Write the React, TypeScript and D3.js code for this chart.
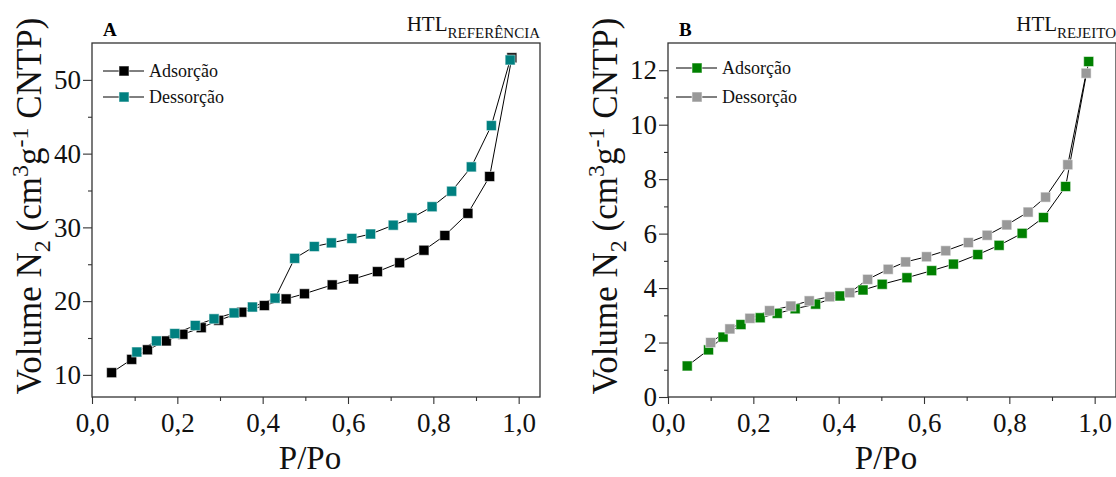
import React, { useEffect, useRef } from "react";
import * as d3 from "d3";

// P/Po and adsorbed volume
const pAdsA = [0.046, 0.093, 0.13, 0.174, 0.213, 0.256, 0.297, 0.351, 0.404, 0.455, 0.498, 0.563, 0.613, 0.669, 0.721, 0.778, 0.827, 0.881, 0.932, 0.984];
const vAdsA = [10.3, 12.1, 13.4, 14.6, 15.5, 16.4, 17.4, 18.5, 19.4, 20.3, 21.0, 22.2, 23.0, 24.0, 25.2, 26.9, 28.9, 31.9, 36.9, 53.0];
const pDesA = [0.98, 0.936, 0.889, 0.843, 0.797, 0.75, 0.706, 0.653, 0.609, 0.561, 0.521, 0.475, 0.429, 0.376, 0.333, 0.286, 0.242, 0.194, 0.151, 0.105];
const vDesA = [52.7, 43.8, 38.2, 34.9, 32.8, 31.3, 30.3, 29.1, 28.5, 27.9, 27.4, 25.8, 20.4, 19.2, 18.4, 17.6, 16.7, 15.6, 14.6, 13.1];

const pAdsB = [0.045, 0.095, 0.129, 0.171, 0.216, 0.256, 0.298, 0.346, 0.403, 0.457, 0.502, 0.56, 0.618, 0.669, 0.726, 0.776, 0.83, 0.88, 0.932, 0.986];
const vAdsB = [1.14, 1.73, 2.2, 2.66, 2.91, 3.07, 3.24, 3.41, 3.71, 3.93, 4.14, 4.38, 4.64, 4.88, 5.23, 5.57, 6.01, 6.59, 7.73, 12.32];
const pDesB = [0.98, 0.937, 0.885, 0.844, 0.794, 0.748, 0.704, 0.651, 0.606, 0.557, 0.516, 0.468, 0.426, 0.379, 0.331, 0.288, 0.238, 0.192, 0.145, 0.1];
const vDesB = [11.89, 8.53, 7.34, 6.79, 6.32, 5.94, 5.67, 5.37, 5.15, 4.96, 4.69, 4.32, 3.83, 3.68, 3.53, 3.34, 3.17, 2.89, 2.5, 2.0];

const xTicks = [0, 0.2, 0.4, 0.6, 0.8, 1.0];
const xMinor = [0.1, 0.3, 0.5, 0.7, 0.9];
const yTicksA = [10, 20, 30, 40, 50];
const yMinorA = [15, 25, 35, 45];
const yTicksB = [0, 2, 4, 6, 8, 10, 12];
const yMinorB = [1, 3, 5, 7, 9, 11];
const seriesNames = ["Adsorção", "Dessorção"];

const FONT = "'Liberation Serif', 'Times New Roman', serif";
const TOP = 43;
const BOTTOM = 397;
const PW = 448;

const panels = [
  {
    letter: "A",
    sub: "REFERÊNCIA",
    left: 92,
    yDomain: [7, 55],
    yTicks: yTicksA,
    yMinor: yMinorA,
    series: [
      { p: pAdsA, v: vAdsA, color: "#000000" },
      { p: pDesA, v: vDesA, color: "#008080" },
    ],
    legend: { x: 11, y: [71, 97] },
  },
  {
    letter: "B",
    sub: "REJEITO",
    left: 668,
    yDomain: [0, 13],
    yTicks: yTicksB,
    yMinor: yMinorB,
    series: [
      { p: pAdsB, v: vAdsB, color: "#008000" },
      { p: pDesB, v: vDesB, color: "#999999" },
    ],
    legend: { x: 8, y: [68, 97] },
  },
];

const fmtComma = (d: number) => d3.format(".1f")(d).replace(".", ",");

function drawPanel(svg: any, cfg: any) {
  const g = svg.append("g");
  const x = d3.scaleLinear().domain([0, 1.05]).range([cfg.left, cfg.left + PW]);
  const y = d3.scaleLinear().domain(cfg.yDomain).range([BOTTOM, TOP]);

  // x axis, major + minor
  const xg = g.append("g").attr("transform", `translate(0,${BOTTOM})`);
  xg.call(d3.axisBottom(x).tickValues(xTicks).tickFormat(fmtComma as any).tickSize(7).tickPadding(9));
  xg.append("g").call(d3.axisBottom(x).tickValues(xMinor).tickFormat(() => "").tickSize(4));
  xg.selectAll(".domain").remove();
  xg.selectAll("text").attr("font-family", FONT).attr("font-size", 27).attr("fill", "#111");

  // y axis
  const yg = g.append("g").attr("transform", `translate(${cfg.left},0)`);
  yg.call(d3.axisLeft(y).tickValues(cfg.yTicks).tickFormat(d3.format("d") as any).tickSize(9).tickPadding(2));
  yg.append("g").call(d3.axisLeft(y).tickValues(cfg.yMinor).tickFormat(() => "").tickSize(4));
  yg.selectAll(".domain").remove();
  yg.selectAll("text").attr("font-family", FONT).attr("font-size", 27).attr("fill", "#111");
  g.selectAll(".tick line").attr("stroke", "#333").attr("stroke-width", 1.1);

  // frame
  g.append("rect")
    .attr("x", cfg.left)
    .attr("y", TOP)
    .attr("width", PW)
    .attr("height", BOTTOM - TOP)
    .attr("fill", "none")
    .attr("stroke", "#333")
    .attr("stroke-width", 1.3);

  // lines + square markers
  cfg.series.forEach((s: any) => {
    const idx = d3.range(s.p.length);
    const line = d3
      .line<number>()
      .x((i) => x(s.p[i]))
      .y((i) => y(s.v[i]));
    g.append("path").attr("d", line(idx)).attr("fill", "none").attr("stroke", "#000").attr("stroke-width", 1);
  });
  cfg.series.forEach((s: any) => {
    g.selectAll(null)
      .data(d3.range(s.p.length))
      .enter()
      .append("rect")
      .attr("x", (i: number) => x(s.p[i]) - 5)
      .attr("y", (i: number) => y(s.v[i]) - 5)
      .attr("width", 10)
      .attr("height", 10)
      .attr("fill", s.color)
      .attr("stroke", "#fff")
      .attr("stroke-opacity", 0.55)
      .attr("stroke-width", 1);
  });

  // legend
  cfg.series.forEach((s: any, k: number) => {
    const lx = cfg.left + cfg.legend.x;
    const ly = cfg.legend.y[k];
    g.append("line").attr("x1", lx).attr("x2", lx + 41).attr("y1", ly).attr("y2", ly).attr("stroke", "#000").attr("stroke-width", 1);
    g.append("rect")
      .attr("x", lx + 21 - 5)
      .attr("y", ly - 5)
      .attr("width", 10)
      .attr("height", 10)
      .attr("fill", s.color)
      .attr("stroke", "#fff")
      .attr("stroke-opacity", 0.55);
    g.append("text")
      .attr("x", lx + 46)
      .attr("y", ly + 6)
      .attr("font-family", FONT)
      .attr("font-size", 18)
      .attr("fill", "#111")
      .text(seriesNames[k]);
  });

  // panel letter + sample name
  g.append("text")
    .attr("x", cfg.left + 11)
    .attr("y", 36)
    .attr("font-family", FONT)
    .attr("font-weight", "bold")
    .attr("font-size", 19)
    .text(cfg.letter);
  const t = g
    .append("text")
    .attr("x", cfg.left + PW)
    .attr("y", 31)
    .attr("text-anchor", "end")
    .attr("font-family", FONT)
    .attr("font-size", 21)
    .attr("fill", "#111");
  t.append("tspan").text("HTL");
  t.append("tspan").attr("font-size", 15).attr("dy", 7).text(cfg.sub);

  // axis titles
  g.append("text")
    .attr("x", cfg.left + 218)
    .attr("y", 469)
    .attr("text-anchor", "middle")
    .attr("font-family", FONT)
    .attr("font-size", 33)
    .attr("fill", "#111")
    .text("P/Po");

  const yt = g
    .append("text")
    .attr("transform", `translate(${cfg.left - 51},${(TOP + BOTTOM) / 2 - 14}) rotate(-90)`)
    .attr("text-anchor", "middle")
    .attr("font-family", FONT)
    .attr("font-size", 35)
    .attr("fill", "#111");
  yt.append("tspan").text("Volume N");
  yt.append("tspan").attr("font-size", 24).attr("dy", 9).text("2");
  yt.append("tspan").attr("dy", -9).text(" (cm");
  yt.append("tspan").attr("font-size", 24).attr("dy", -13).text("3");
  yt.append("tspan").attr("dy", 13).text("g");
  yt.append("tspan").attr("font-size", 24).attr("dy", -13).text("-1");
  yt.append("tspan").attr("dy", 13).text(" CNTP)");
}

const App = () => {
  const svgRef = useRef<SVGSVGElement | null>(null);

  useEffect(() => {
    const svg = d3.select(svgRef.current);
    svg.selectAll("*").remove();
    panels.forEach((p) => drawPanel(svg, p));
  }, []);

  return (
    <svg
      ref={svgRef}
      width={1116}
      height={477}
      style={{ position: "absolute", left: 0, top: 0, background: "#fff" }}
    />
  );
};

export default App;
